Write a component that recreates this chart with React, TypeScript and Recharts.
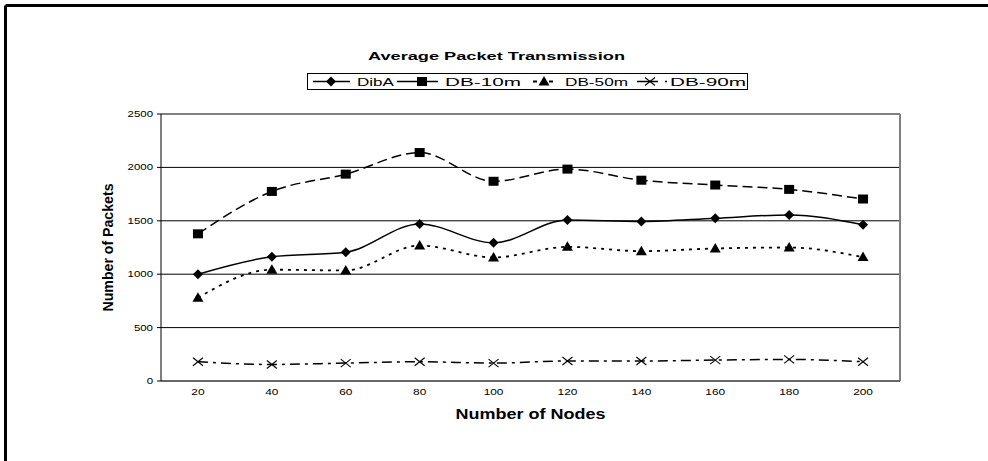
import React from 'react';
import { LineChart, Line, XAxis, YAxis, CartesianGrid, Legend, ReferenceLine } from 'recharts';

// ---- data ----
const nodes = [20, 40, 60, 80, 100, 120, 140, 160, 180, 200];
const dibA = [1000, 1163, 1206, 1471, 1294, 1508, 1493, 1524, 1555, 1462];
const db10m = [1378, 1775, 1937, 2139, 1870, 1984, 1880, 1835, 1794, 1704];
const db50m = [780, 1042, 1035, 1269, 1157, 1256, 1216, 1241, 1250, 1160];
const db90m = [180, 155, 168, 180, 168, 187, 187, 196, 202, 180];
const yTicks = [0, 500, 1000, 1500, 2000, 2500];
const xDomain = [10, 210];
const boundaryTicks = [10, 30, 50, 70, 90, 110, 130, 150, 170, 190, 210];
const seriesNames = ['DibA', 'DB-10m', 'DB-50m', 'DB-90m'];
const chartTitle = 'Average Packet Transmission';
const xTitle = 'Number of Nodes';
const yTitle = 'Number of Packets';

const seriesValues = [dibA, db10m, db50m, db90m];
const data = nodes.map((n, i) => {
  const row: Record<string, number> = { nodes: n };
  seriesNames.forEach((s, k) => (row[s] = seriesValues[k][i]));
  return row;
});

const FONT = '"Liberation Sans", Arial, sans-serif';

type Kind = 'diamond' | 'square' | 'triangle' | 'cross';
const styles: { kind: Kind; dash?: string; width: number }[] = [
  { kind: 'diamond', width: 1.5 },
  { kind: 'square', dash: '10 5', width: 1.5 },
  { kind: 'triangle', dash: '3 5', width: 1.8 },
  { kind: 'cross', dash: '10 5 3 5', width: 1.5 },
];

// legend sample styling (relative to legend box)
const legendSamples = [
  { x1: 6, x2: 43, m: 24, dash: undefined as string | undefined, tx: 50, tl: 37 },
  { x1: 90, x2: 131, m: 115, dash: undefined as string | undefined, tx: 138, tl: 76 },
  { x1: 226, x2: 247, m: 237, dash: '4 12', tx: 258, tl: 63 },
  { x1: 330, x2: 361, m: 343, dash: '21 7 2 10', tx: 363, tl: 76 },
];

function Marker({ kind, cx, cy }: { kind: Kind; cx: number; cy: number }) {
  if (cx == null || cy == null) return null;
  switch (kind) {
    case 'diamond':
      return <polygon points={`${cx},${cy - 5} ${cx + 5},${cy} ${cx},${cy + 5} ${cx - 5},${cy}`} fill="#000" />;
    case 'square':
      return <rect x={cx - 5} y={cy - 4.5} width={10} height={9} fill="#000" />;
    case 'triangle':
      return <polygon points={`${cx},${cy - 5.5} ${cx + 5.5},${cy + 4} ${cx - 5.5},${cy + 4}`} fill="#000" />;
    default:
      return (
        <g stroke="#000" strokeWidth={1.1}>
          <line x1={cx - 5} y1={cy - 4} x2={cx + 5} y2={cy + 4} />
          <line x1={cx - 5} y1={cy + 4} x2={cx + 5} y2={cy - 4} />
        </g>
      );
  }
}

function LegendBox() {
  return (
    <svg width={441} height={17} style={{ display: 'block' }}>
      <rect x={0.5} y={0.5} width={440} height={16} fill="#fff" stroke="#000" strokeWidth={1} />
      {seriesNames.map((name, i) => {
        const ls = legendSamples[i];
        const st = styles[i];
        return (
          <g key={name}>
            <line x1={ls.x1} y1={8.5} x2={ls.x2} y2={8.5} stroke="#000" strokeWidth={st.width} strokeDasharray={ls.dash} />
            <Marker kind={st.kind} cx={ls.m} cy={8.5} />
            <text
              x={ls.tx}
              y={13}
              fontSize={11.5}
              fontFamily={FONT}
              fill="#000"
              textLength={ls.tl}
              lengthAdjust="spacingAndGlyphs"
            >
              {name}
            </text>
          </g>
        );
      })}
    </svg>
  );
}

const YTick = (props: any) => {
  const { x, y, payload } = props;
  return (
    <text
      transform={`translate(${x},${y}) scale(1.35,1)`}
      textAnchor="end"
      dominantBaseline="central"
      fontSize={8.5}
      fontFamily={FONT}
      fill="#000"
    >
      {payload.value}
    </text>
  );
};

const XTick = (props: any) => {
  const { x, y, payload } = props;
  return (
    <text
      transform={`translate(${x},${y}) scale(1.4,1)`}
      textAnchor="middle"
      y={6.5}
      fontSize={8.5}
      fontFamily={FONT}
      fill="#000"
    >
      {payload.value}
    </text>
  );
};

export default function App() {
  return (
    <div style={{ position: 'absolute', left: 0, top: 0, width: 988, height: 461, overflow: 'hidden', background: '#fff' }}>
      <svg style={{ position: 'absolute', left: 0, top: 0 }} width={988} height={461}>
        <line x1={5.5} y1={5.5} x2={988} y2={5.5} stroke="#000" strokeWidth={3} />
        <line x1={5.5} y1={5.5} x2={5.5} y2={461} stroke="#000" strokeWidth={3} />
        <text
          x={368}
          y={60}
          fontSize={11}
          fontWeight="bold"
          fontFamily={FONT}
          fill="#000"
          textLength={257}
          lengthAdjust="spacingAndGlyphs"
        >
          {chartTitle}
        </text>
      </svg>
      <div style={{ position: 'absolute', left: 0, top: 0 }}>
        <LineChart width={988} height={461} data={data} margin={{ top: 114, right: 88, bottom: 0, left: 0 }}>
          <CartesianGrid vertical={false} stroke="#000" strokeWidth={1} xAxisId="b_lab" yAxisId="y" />
          <XAxis
            xAxisId="a_tick"
            dataKey="nodes"
            type="number"
            domain={xDomain}
            ticks={boundaryTicks}
            tick={false}
            tickSize={4}
            height={5}
            axisLine={{ stroke: '#606060', strokeWidth: 1.5 }}
            tickLine={{ stroke: '#404040', strokeWidth: 1 }}
          />
          <XAxis
            xAxisId="b_lab"
            dataKey="nodes"
            type="number"
            domain={xDomain}
            ticks={nodes}
            tick={<XTick />}
            tickLine={false}
            axisLine={false}
            tickSize={0}
            tickMargin={2}
            height={75}
            label={{
              content: (p: any) => {
                const vb = p.viewBox || {};
                const cx = vb.x + vb.width / 2;
                return (
                  <text
                    x={cx - 75}
                    y={vb.y + 33}
                    fontSize={15}
                    fontWeight="bold"
                    fontFamily={FONT}
                    fill="#000"
                    textLength={150}
                    lengthAdjust="spacingAndGlyphs"
                  >
                    {xTitle}
                  </text>
                );
              },
            }}
          />
          <YAxis
            yAxisId="y"
            width={161}
            domain={[0, 2500]}
            ticks={yTicks}
            tick={<YTick />}
            tickSize={4}
            tickMargin={4}
            interval={0}
            axisLine={{ stroke: '#000', strokeWidth: 1 }}
            tickLine={{ stroke: '#000', strokeWidth: 1 }}
            label={{
              content: (p: any) => {
                const vb = p.viewBox || {};
                const cx = vb.x + 108;
                const cy = vb.y + vb.height / 2;
                return (
                  <text
                    transform={`translate(${cx},${cy}) rotate(-90)`}
                    textAnchor="middle"
                    dominantBaseline="central"
                    fontSize={14}
                    fontWeight="bold"
                    fontFamily={FONT}
                    fill="#000"
                    textLength={128}
                    lengthAdjust="spacingAndGlyphs"
                  >
                    {yTitle}
                  </text>
                );
              },
            }}
          />
          <ReferenceLine xAxisId="b_lab" yAxisId="y" y={2500} stroke="#808080" strokeWidth={2} />
          <ReferenceLine xAxisId="b_lab" yAxisId="y" x={210} stroke="#808080" strokeWidth={2} />
          <Legend
            layout="horizontal"
            verticalAlign="middle"
            align="center"
            wrapperStyle={{ top: 73, left: 307, width: 441, height: 17 }}
            content={() => <LegendBox />}
          />
          {seriesNames.map((name, i) => (
            <Line
              key={name}
              xAxisId="b_lab"
              yAxisId="y"
              dataKey={name}
              type="monotone"
              stroke="#000"
              strokeWidth={styles[i].width}
              strokeDasharray={styles[i].dash}
              isAnimationActive={false}
              activeDot={false}
              dot={(p: any) => <Marker key={`${name}-${p.index}`} kind={styles[i].kind} cx={p.cx} cy={p.cy} />}
            />
          ))}
        </LineChart>
      </div>
    </div>
  );
}
